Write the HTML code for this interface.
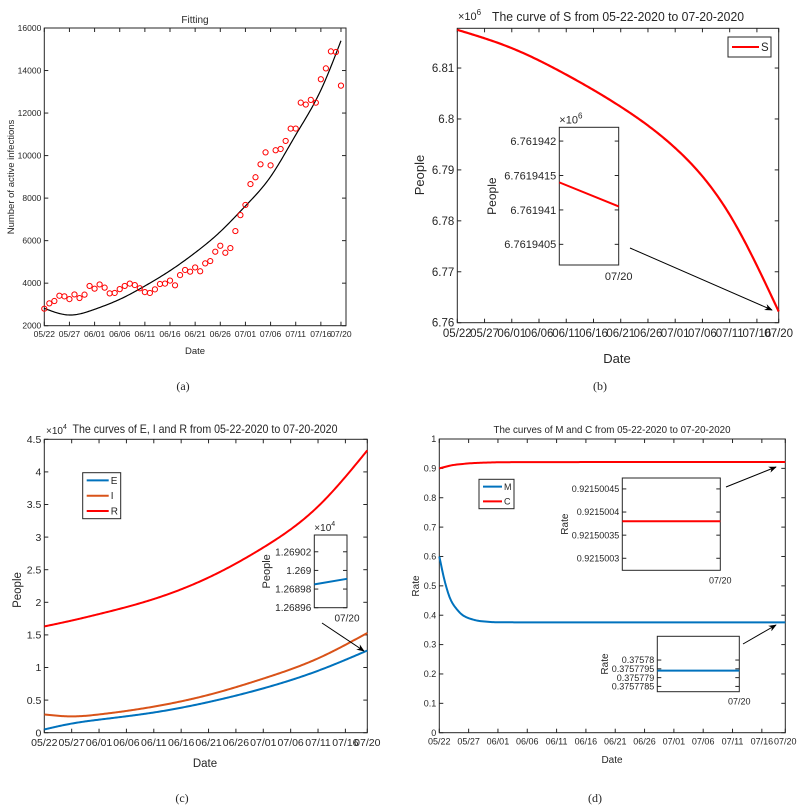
<!DOCTYPE html>
<html><head><meta charset="utf-8"><style>
html,body{margin:0;padding:0;background:#fff;}
svg{display:block;font-family:"Liberation Sans",sans-serif;}
</style></head><body>
<svg id="fig" width="807" height="810" viewBox="0 0 807 810" xmlns="http://www.w3.org/2000/svg">
<defs><marker id="ah" viewBox="0 0 10 10" refX="9" refY="5" markerWidth="8" markerHeight="8" orient="auto"><path d="M0,1 L10,5 L0,9 L3,5 z" fill="#000"/></marker></defs>
</svg>
<script>
// ---------- shared date axis ----------
const tickDays = [0,5,10,15,20,25,30,35,40,45,50,55,59];
const tickLabels = ['05/22','05/27','06/01','06/06','06/11','06/16','06/21','06/26','07/01','07/06','07/11','07/16','07/20'];
// ---------- panel a ----------
const obsDays = [];
for (let i=0;i<60;i++) obsDays.push(i);
const obsValues = [2800,3050,3160,3410,3380,3250,3470,3300,3460,3870,3740,3940,3790,3520,3540,3720,3870,3980,3910,3760,3580,3540,3710,3960,3980,4120,3900,4380,4620,4540,4740,4560,4930,5040,5480,5760,5430,5650,6450,7200,7680,8660,8980,9590,10150,9540,10250,10310,10690,11270,11270,12490,12400,12620,12490,13590,14100,14900,14870,13290];
const fitDays = [0,5,10,15,20,25,30,35,40,45,50,55,59];
const fitValues = [2818,2503,2770,3240,3867,4587,5433,6421,7630,9008,10970,13080,15400];
const aYTicks = [2000,4000,6000,8000,10000,12000,14000,16000];
// ---------- panel b ----------
const sDays = [0,10,20,30,40,50,59];
const sValues = [6.8175,6.8139,6.8087,6.8024,6.7943,6.7812,6.7622];
const bYTicks = [6.76,6.77,6.78,6.79,6.8,6.81];
const bInsetTicks = [6.7619405,6.761941,6.7619415,6.761942];
const bInsetLine = [6.7619414,6.76194105];
// ---------- panel c ----------
const cDays = [0,5,10,20,30,40,50,59];
const eValues = [0.05,0.14,0.20,0.31,0.47,0.68,0.95,1.26];
const iValues = [0.28,0.25,0.28,0.40,0.58,0.83,1.14,1.53];
const rValues = [1.63,1.72,1.82,2.05,2.38,2.84,3.47,4.33];
const cYTicks = [0,0.5,1,1.5,2,2.5,3,3.5,4,4.5];
const cYTickLabels = ['0','0.5','1','1.5','2','2.5','3','3.5','4','4.5'];
const cInsetTicks = [1.26896,1.26898,1.269,1.26902];
const cInsetLine = [1.268985,1.268991];
// ---------- panel d ----------
const dDays = [0,1,2,3,4,5,7,10,15,30,45,59];
const mValues = [0.60,0.51,0.45,0.42,0.40,0.39,0.38,0.376,0.3758,0.3758,0.3758,0.3758];
const cRateValues = [0.90,0.905,0.91,0.913,0.915,0.917,0.919,0.9207,0.9213,0.9215,0.9215,0.9215];
const dYTicks = [0,0.1,0.2,0.3,0.4,0.5,0.6,0.7,0.8,0.9,1];
const dInsetCTicks = [0.9215003,0.92150035,0.9215004,0.92150045];
const dInsetCLabels = ['0.9215003','0.92150035','0.9215004','0.92150045'];
const dInsetCLine = [0.92150038,0.92150038];
const dInsetMTicks = [0.3757785,0.375779,0.3757795,0.37578];
const dInsetMLabels = ['0.3757785','0.375779','0.3757795','0.37578'];
const dInsetMLine = [0.3757794,0.3757794];

const NS='http://www.w3.org/2000/svg';
const svg=document.getElementById('fig');
function mk(tag,attrs,parent,txt){const e=document.createElementNS(NS,tag);for(const k in attrs)e.setAttribute(k,attrs[k]);if(txt!==undefined)e.textContent=txt;(parent||svg).appendChild(e);return e;}
function scale(d0,d1,r0,r1){return v=>r0+(v-d0)/(d1-d0)*(r1-r0);}
function monotone(xs,ys){const n=xs.length,d=[],m=[];
 for(let i=0;i<n-1;i++)d.push((ys[i+1]-ys[i])/(xs[i+1]-xs[i]));
 m[0]=d[0];m[n-1]=d[n-2];
 for(let i=1;i<n-1;i++){if(d[i-1]*d[i]<=0)m[i]=0;else{const w1=2*(xs[i+1]-xs[i])+(xs[i]-xs[i-1]),w2=(xs[i+1]-xs[i])+2*(xs[i]-xs[i-1]);m[i]=(w1+w2)/(w1/d[i-1]+w2/d[i]);}}
 return hermite(xs,ys,m);}
function natural(xs,ys){const n=xs.length,h=[],al=[0],l=[1],mu=[0],z=[0],c=new Array(n).fill(0);
 for(let i=0;i<n-1;i++)h.push(xs[i+1]-xs[i]);
 for(let i=1;i<n-1;i++)al.push(3/h[i]*(ys[i+1]-ys[i])-3/h[i-1]*(ys[i]-ys[i-1]));
 for(let i=1;i<n-1;i++){l[i]=2*(xs[i+1]-xs[i-1])-h[i-1]*mu[i-1];mu[i]=h[i]/l[i];z[i]=(al[i]-h[i-1]*z[i-1])/l[i];}
 const b=[],dd=[];for(let j=n-2;j>=0;j--){c[j]=(j===0?0:z[j])-mu[j]*c[j+1];if(j===0)c[0]=0;b[j]=(ys[j+1]-ys[j])/h[j]-h[j]*(c[j+1]+2*c[j])/3;dd[j]=(c[j+1]-c[j])/(3*h[j]);}
 return t=>{let i=0;while(i<n-2&&t>xs[i+1])i++;const u=t-xs[i];return ys[i]+b[i]*u+c[i]*u*u+dd[i]*u*u*u;};}
function hermite(xs,ys,m){const n=xs.length;return t=>{let i=0;while(i<n-2&&t>xs[i+1])i++;const h=xs[i+1]-xs[i],s=(t-xs[i])/h;
  const h00=2*s*s*s-3*s*s+1,h10=s*s*s-2*s*s+s,h01=-2*s*s*s+3*s*s,h11=s*s*s-s*s;
  return h00*ys[i]+h10*h*m[i]+h01*ys[i+1]+h11*h*m[i+1];};}
function pathFor(days,vals,X,Y,nat){const f=nat?natural(days,vals):monotone(days,vals);let d='';const a=days[0],b=days[days.length-1];
 for(let t=a;t<=b+1e-9;t+=0.25){d+=(d?' L':'M')+X(t).toFixed(2)+','+Y(f(t)).toFixed(2);}return d;}
function frame(g,x0,x1,y0,y1,X,Y,yt,ytl,fs,xt,xtl,xfs){
 const r=mk('rect',{x:x0,y:y0,width:x1-x0,height:y1-y0,fill:'none',stroke:'#262626','stroke-width':1},g);
 
 yt.forEach((v,i)=>{const y=Y(v);mk('line',{x1:x0,x2:x0+4,y1:y,y2:y,stroke:'#262626'},g);mk('line',{x1:x1,x2:x1-4,y1:y,y2:y,stroke:'#262626'},g);
  const t=mk('text',{x:x0-3,y:y+fs*0.35,'text-anchor':'end','font-size':fs,fill:'#262626'},g,ytl[i]);
  });
 if(xt) xt.forEach((v,i)=>{const x=X(v);mk('line',{x1:x,x2:x,y1:y1,y2:y1-4,stroke:'#262626'},g);mk('line',{x1:x,x2:x,y1:y0,y2:y0+4,stroke:'#262626'},g);
  const t=mk('text',{x:x,y:y1+xfs+3,'text-anchor':'middle','font-size':xfs,fill:'#262626'},g,xtl[i]);
  });}
function label(g,txt,x,y,fs,name,rot,extra){const a={x:x,y:y,'text-anchor':'middle','font-size':fs,fill:'#262626'};if(rot)a.transform='rotate(-90 '+x+' '+y+')';if(extra)Object.assign(a,extra);
 const t=mk('text',a,g,txt);return t;}
function curve(g,days,vals,X,Y,color,w,name,nat){const p=mk('path',{d:pathFor(days,vals,X,Y,nat),fill:'none',stroke:color,'stroke-width':w,'stroke-linejoin':'round'},g);
 return p;}
function arrow(g,x1,y1,x2,y2){const l=mk('line',{x1,y1,x2,y2,stroke:'#000','stroke-width':1,'marker-end':'url(#ah)'},g);}
function inset(g,x0,x1,y0,y1,dmin,dmax,ticks,labs,fs,line,color,ylab,ylx,exp,name){
 const ig=mk('g',{},g);
 const Y=scale(dmin,dmax,y1,y0);
 frame(ig,x0,x1,y0,y1,null,Y,ticks,labs,fs);
 const pl=mk('line',{x1:x0,x2:x1,y1:Y(line[0]),y2:Y(line[1]),stroke:color,'stroke-width':2},ig);
 
 label(ig,'07/20',x1,y1+fs+4,fs,'inset-x-tick-label');
 label(ig,ylab,ylx,(y0+y1)/2,fs+1,'inset-y-axis-title',true);
 if(exp){const t=mk('text',{x:x0,y:y0-4,'font-size':fs,fill:'#262626'},ig);
  t.innerHTML='×10<tspan dy="-5" font-size="'+(fs-3)+'">'+exp+'</tspan>';}}
function legend(g,x,y,w,h,items,fs,name){const lg=mk('g',{},g);
 mk('rect',{x,y,width:w,height:h,fill:'#fff',stroke:'#262626'},lg);
 items.forEach((it,i)=>{const yy=y+h*(i+0.5)/items.length;mk('line',{x1:x+4,x2:x+w-12,y1:yy,y2:yy,stroke:it[1],'stroke-width':2},lg);
  const t=mk('text',{x:x+w-10,y:yy+fs*0.35,'font-size':fs,fill:'#262626'},lg,it[0]);});}

// ===== Panel a =====
(function(){const g=mk('g',{});
 const x0=44.3,x1=346,y0=28,y1=325.7;const X=scale(0,60,x0,x1),Y=scale(2000,16000,y1,y0);
 frame(g,x0,x1,y0,y1,X,Y,aYTicks,aYTicks.map(String),8.5,tickDays,tickLabels,8.5);
 curve(g,fitDays,fitValues,X,Y,'#000',1.2,'fitted-curve',true);
 obsDays.forEach((d,i)=>{const c=mk('circle',{cx:X(d),cy:Y(obsValues[i]),r:2.6,fill:'none',stroke:'#f00','stroke-width':1},g);
  });
 label(g,'Fitting',195,23,10,'chart-title');
 label(g,'Number of active infections',14,177,9.5,'y-axis-title',true);
 label(g,'Date',195,354,9.5,'x-axis-title');
 label(g,'(a)',183,390,12,'panel-label',false,{'font-family':'Liberation Serif'});})();

// ===== Panel b =====
(function(){const g=mk('g',{});
 const x0=457.3,x1=778.7,y0=28.3,y1=322.7;const X=scale(0,59,x0,x1),Y=scale(6.76,6.8178,y1,y0);
 frame(g,x0,x1,y0,y1,X,Y,bYTicks,bYTicks.map(v=>String(v)),11.5,tickDays,tickLabels,11.5);
 curve(g,sDays,sValues,X,Y,'#f00',2.2,'s-curve',true);
 legend(g,728,37,43,20,[['S','#f00']],11.5,'legend');
 const t=mk('text',{x:458,y:20,'font-size':11,fill:'#262626'},g);t.innerHTML='×10<tspan dy="-5" font-size="8">6</tspan>';
 label(g,'The curve of S from 05-22-2020 to 07-20-2020',618,21,12.5,'chart-title',false,{textLength:252,lengthAdjust:'spacingAndGlyphs'});
 label(g,'People',424,175,13,'y-axis-title',true);
 label(g,'Date',617,363,13,'x-axis-title');
 label(g,'(b)',600,390,12,'panel-label',false,{'font-family':'Liberation Serif'});
 inset(g,559.3,618.7,127.3,265,6.7619402,6.7619422,bInsetTicks,['6.7619405','6.761941','6.7619415','6.761942'],11,bInsetLine,'#f00','People',496,'6','inset-s');
 arrow(g,630,248,772,310);})();

// ===== Panel c =====
(function(){const g=mk('g',{});
 const x0=44.3,x1=367.3,y0=439.3,y1=732.7;const X=scale(0,59,x0,x1),Y=scale(0,4.5,y1,y0);
 frame(g,x0,x1,y0,y1,X,Y,cYTicks,cYTickLabels,10.5,tickDays,tickLabels,10.5);
 curve(g,cDays,rValues,X,Y,'#f00',2,'r-curve',true);
 curve(g,cDays,iValues,X,Y,'#D95319',2,'i-curve',true);
 curve(g,cDays,eValues,X,Y,'#0072BD',2,'e-curve',true);
 legend(g,82.7,472.7,38,46,[['E','#0072BD'],['I','#D95319'],['R','#f00']],10,'legend');
 const t=mk('text',{x:46,y:434,'font-size':10,fill:'#262626'},g);t.innerHTML='×10<tspan dy="-5" font-size="7">4</tspan>';
 label(g,'The curves of E, I and R from 05-22-2020 to 07-20-2020',205,433,12,'chart-title',false,{textLength:265,lengthAdjust:'spacingAndGlyphs'});
 label(g,'People',21,590,11.5,'y-axis-title',true);
 label(g,'Date',205,767,11.5,'x-axis-title');
 label(g,'(c)',182,802,12,'panel-label',false,{'font-family':'Liberation Serif'});
 inset(g,314.3,347,535,607.7,1.26896,1.269038,cInsetTicks,['1.26896','1.26898','1.269','1.26902'],10,cInsetLine,'#0072BD','People',270,'4','inset-e');
 arrow(g,322,623,364,651);})();

// ===== Panel d =====
(function(){const g=mk('g',{});
 const x0=439.3,x1=785.3,y0=439,y1=732.7;const X=scale(0,59,x0,x1),Y=scale(0,1,y1,y0);
 frame(g,x0,x1,y0,y1,X,Y,dYTicks,dYTicks.map(String),9,tickDays,tickLabels,9);
 curve(g,dDays,cRateValues,X,Y,'#f00',2,'c-curve',false);
 curve(g,dDays,mValues,X,Y,'#0072BD',2,'m-curve',false);
 legend(g,479,479.3,35,29.4,[['M','#0072BD'],['C','#f00']],9,'legend');
 label(g,'The curves of M and C from 05-22-2020 to 07-20-2020',612,433,10,'chart-title',false,{textLength:237,lengthAdjust:'spacingAndGlyphs'});
 label(g,'Rate',419,586,10,'y-axis-title',true);
 label(g,'Date',612,763,10,'x-axis-title');
 label(g,'(d)',595,802,12,'panel-label',false,{'font-family':'Liberation Serif'});
 inset(g,622.3,720.3,478,570.3,0.921500274,0.9215004736,dInsetCTicks,dInsetCLabels,9,dInsetCLine,'#f00','Rate',568,null,'inset-c');
 inset(g,657.3,739.3,636.3,691.7,0.3757782,0.37578135,dInsetMTicks,dInsetMLabels,9,dInsetMLine,'#0072BD','Rate',608,null,'inset-m');
 arrow(g,726,487,776,467);
 arrow(g,743,644,776,625);})();
</script>
</body></html>
